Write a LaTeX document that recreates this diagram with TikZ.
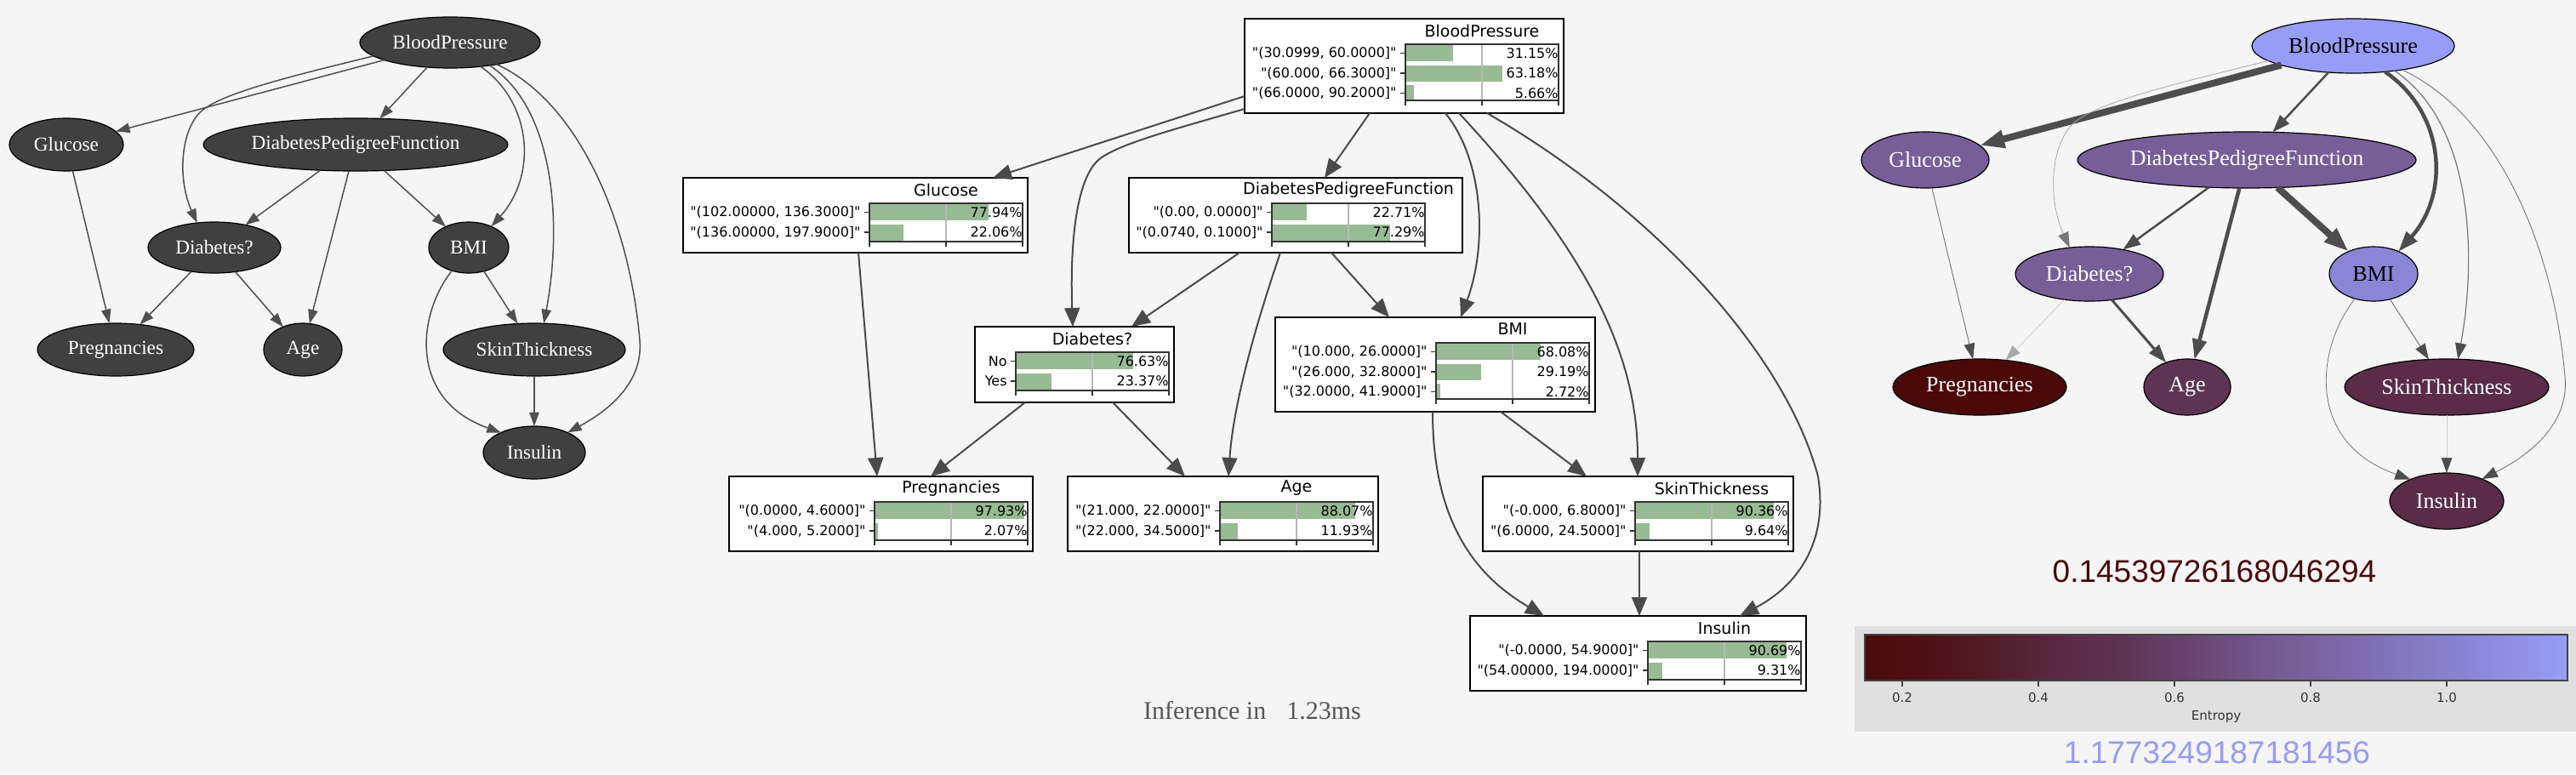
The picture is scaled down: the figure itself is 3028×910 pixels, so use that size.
\documentclass[tikz,border=0pt]{standalone}
\usepackage{fontspec}
\setmainfont{Liberation Serif}
\newfontfamily\dejavu{DejaVu Sans}
\newfontfamily\arialf{Liberation Sans}
\usetikzlibrary{shapes.geometric,arrows.meta,calc}
\definecolor{bg}{HTML}{F5F5F5}
\definecolor{lfill}{HTML}{404040}
\definecolor{ledgec}{HTML}{505050}
\definecolor{medgec}{HTML}{4A4A4A}
\definecolor{redgec}{HTML}{4D4D4D}
\definecolor{redgemid}{HTML}{777777}
\definecolor{redgelight}{HTML}{A8A8A8}
\definecolor{redgepale}{HTML}{C8C8C8}
\definecolor{barc}{HTML}{98BA94}
\definecolor{axc}{HTML}{333333}
\definecolor{gridc}{HTML}{B8B8B8}
\definecolor{cbbg}{HTML}{E0E0E0}
\definecolor{cbline}{HTML}{444444}
\definecolor{cbtxt}{HTML}{333333}
\definecolor{numdark}{HTML}{4A0A0A}
\definecolor{numlight}{HTML}{979CF5}
\definecolor{inftxt}{HTML}{555555}
\definecolor{rBPc}{HTML}{979DF7}
\definecolor{rPurp}{HTML}{775E98}
\definecolor{rBMIc}{HTML}{8A86D5}
\definecolor{rPreC}{HTML}{4A0808}
\definecolor{rAgeC}{HTML}{5E3454}
\definecolor{rSIC}{HTML}{5A2C48}
\definecolor{e0}{HTML}{4A0A0A}
\definecolor{e12}{HTML}{4F141A}
\definecolor{e30}{HTML}{5A2C48}
\definecolor{e37}{HTML}{5E3454}
\definecolor{e606}{HTML}{775E98}
\definecolor{e864}{HTML}{8A86D5}
\definecolor{e1}{HTML}{979DF7}
\pgfdeclarehorizontalshading{entropyshade}{100bp}{color(0bp)=(e0); color(25bp)=(e0); color(31bp)=(e12); color(40bp)=(e30); color(43.5bp)=(e37); color(55.3bp)=(e606); color(68.2bp)=(e864); color(75bp)=(e1); color(100bp)=(e1)}

\tikzset{
  lnode/.style={ellipse, draw=black, line width=0.6pt, fill=lfill, text=white, inner sep=0pt, outer sep=0pt, font=\fontsize{11.6}{13}\selectfont},
  ledge/.style={draw=ledgec, line width=0.75pt, -{Triangle[length=7.5pt 1, width=5pt 1]}},
  rnode/.style={ellipse, draw=black, line width=0.6pt, inner sep=0pt, outer sep=0pt, font=\fontsize{13}{15}\selectfont},
  rarr/.style n args={3}{line width=#1, draw=#2, -{Triangle[length=8.5pt 1.5, width=6pt 1, color=#3]}},
  medge/.style={draw=medgec, line width=1pt, -{Triangle[length=10pt 1, width=8pt 1]}},
  pbox/.style={draw=black, line width=1.3pt, fill=white, inner sep=0pt, outer sep=0pt},
  ptitle/.style={font=\dejavu\fontsize{9.5}{11}\selectfont, inner sep=0pt},
  plabel/.style={font=\dejavu\fontsize{8}{9}\selectfont, inner sep=0pt, anchor=east},
  axline/.style={draw=axc, line width=0.6pt},
  cbtick/.style={font=\dejavu\fontsize{7.5}{9}\selectfont, text=cbtxt, inner sep=0pt},
  bignum/.style={font=\arialf\fontsize{18.5}{21}\selectfont, inner sep=0pt},
  inf/.style={font=\fontsize{15}{17}\selectfont, text=inftxt, inner sep=0pt}
}

% #1 name, #2 L, #3 T, #4 R, #5 B, #6 bar-left, #7 title
\newcommand\pchart[7]{%
  \node[pbox, anchor=north west, minimum width={(#4-#2)*0.5pt}, minimum height={(#5-#3)*0.5pt}] (#1) at (#2,#3) {};
  \node[ptitle] (#1t) at ({#6+90},{#3+14}) {#7};
}
% #1 name, #2 bar-left, #3 row y, #4 label, #5 pct
\newcommand\prow[5]{%
  \fill[barc] (#2,{#3-9.5}) rectangle ({#2+1.8*#5},{#3+9.5});
  \draw[axline] ({#2-6},#3) -- (#2,#3);
  \node[plabel] (#1l) at ({#2-10},#3) {#4};
  \node[plabel] (#1p) at ({#2+180},#3) {#5\%};
}
% #1 bar-left, #2 chart top, #3 chart height
\newcommand\pframe[3]{%
  \draw[gridc, line width=0.6pt] ({#1+90},#2) -- ({#1+90},{#2+#3});
  \draw[axline] (#1,#2) rectangle ({#1+180},{#2+#3});
  \foreach \dx in {0,90,180} {\draw[axline] ({#1+\dx},{#2+#3}) -- ({#1+\dx},{#2+#3+6});}
}

\begin{document}
\begin{tikzpicture}[x=0.5pt,y=-0.5pt]
\useasboundingbox (0,0) rectangle (3028,910);
\fill[bg] (0,0) rectangle (3028,910);

%%%%%%%%%%%%%%%% LEFT GRAPH
\node[lnode,minimum width=106pt,minimum height=30pt] (lBP) at (529,50) {BloodPressure};
\node[lnode,minimum width=67pt,minimum height=31pt] (lGl) at (78,170) {Glucose};
\node[lnode,minimum width=179pt,minimum height=31pt] (lDPF) at (418,170) {DiabetesPedigreeFunction};
\node[lnode,minimum width=78pt,minimum height=30pt] (lDia) at (252,291) {Diabetes?};
\node[lnode,minimum width=47pt,minimum height=30pt] (lBMI) at (551,291) {BMI};
\node[lnode,minimum width=92pt,minimum height=31pt] (lPre) at (136,411) {Pregnancies};
\node[lnode,minimum width=46pt,minimum height=31pt] (lAge) at (356,411) {Age};
\node[lnode,minimum width=107pt,minimum height=31pt] (lST) at (628,411) {SkinThickness};
\node[lnode,minimum width=60pt,minimum height=31pt] (lIns) at (628,532) {Insulin};

\draw[ledge] (lBP) -- (lGl);
\draw[ledge] (lBP.190) .. controls (340,90) and (268,108) .. (240,128) .. controls (212,148) and (208,210) .. (lDia.125);
\draw[ledge] (lBP) -- (lDPF);
\draw[ledge] (lBP.322) .. controls (625,120) and (632,205) .. (lBMI.43);
\draw[ledge] (lBP.330) .. controls (655,130) and (660,270) .. (lST.70);
\draw[ledge] (lBP.335) .. controls (680,120) and (740,260) .. (752,400) .. controls (756,447) and (720,480) .. (lIns.31);
\draw[ledge] (lGl) -- (lPre);
\draw[ledge] (lDPF) -- (lDia);
\draw[ledge] (lDPF) -- (lAge);
\draw[ledge] (lDPF) -- (lBMI);
\draw[ledge] (lDia) -- (lPre);
\draw[ledge] (lDia) -- (lAge);
\draw[ledge] (lBMI) -- (lST);
\draw[ledge] (lBMI.234) .. controls (490,370) and (480,470) .. (lIns.149);
\draw[ledge] (lST) -- (lIns);

%%%%%%%%%%%%%%%% MIDDLE GRAPH
\pchart{mBP}{1463}{22}{1838}{133}{1652}{BloodPressure}
\prow{mBPa}{1652}{62.5}{"(30.0999, 60.0000]"}{31.15}
\prow{mBPb}{1652}{86}{"(60.000, 66.3000]"}{63.18}
\prow{mBPc}{1652}{109.5}{"(66.0000, 90.2000]"}{5.66}
\pframe{1652}{52}{66}

\pchart{mGl}{803}{209}{1208}{297}{1022}{Glucose}
\prow{mGla}{1022}{249.5}{"(102.00000, 136.3000]"}{77.94}
\prow{mGlb}{1022}{273}{"(136.00000, 197.9000]"}{22.06}
\pframe{1022}{239}{45}

\pchart{mDPF}{1327}{209}{1719}{297}{1495}{DiabetesPedigreeFunction}
\prow{mDPFa}{1495}{249.5}{"(0.00, 0.0000]"}{22.71}
\prow{mDPFb}{1495}{273}{"(0.0740, 0.1000]"}{77.29}
\pframe{1495}{239}{45}

\pchart{mDia}{1146}{384}{1380}{473}{1194}{Diabetes?}
\prow{mDiaa}{1194}{424.5}{No}{76.63}
\prow{mDiab}{1194}{448}{Yes}{23.37}
\pframe{1194}{414}{45}

\pchart{mBMI}{1499}{373}{1875}{484}{1688}{BMI}
\prow{mBMIa}{1688}{413.5}{"(10.000, 26.0000]"}{68.08}
\prow{mBMIb}{1688}{437}{"(26.000, 32.8000]"}{29.19}
\prow{mBMIc}{1688}{460.5}{"(32.0000, 41.9000]"}{2.72}
\pframe{1688}{403}{66}

\pchart{mPre}{857}{560}{1214}{648}{1028}{Pregnancies}
\prow{mPrea}{1028}{600.5}{"(0.0000, 4.6000]"}{97.93}
\prow{mPreb}{1028}{624}{"(4.000, 5.2000]"}{2.07}
\pframe{1028}{590}{45}

\pchart{mAge}{1255}{560}{1620}{648}{1434}{Age}
\prow{mAgea}{1434}{600.5}{"(21.000, 22.0000]"}{88.07}
\prow{mAgeb}{1434}{624}{"(22.000, 34.5000]"}{11.93}
\pframe{1434}{590}{45}

\pchart{mST}{1743}{560}{2108}{648}{1922}{SkinThickness}
\prow{mSTa}{1922}{600.5}{"(-0.000, 6.8000]"}{90.36}
\prow{mSTb}{1922}{624}{"(6.0000, 24.5000]"}{9.64}
\pframe{1922}{590}{45}

\pchart{mIns}{1728}{724}{2123}{812}{1937}{Insulin}
\prow{mInsa}{1937}{764.5}{"(-0.0000, 54.9000]"}{90.69}
\prow{mInsb}{1937}{788}{"(54.00000, 194.0000]"}{9.31}
\pframe{1937}{754}{45}

\draw[medge] ($(mBP.north west)+(0,91)$) -- ($(mGl.north west)+(364,0)$);
\draw[medge] ($(mBP.north west)+(0,106)$) .. controls (1380,152) and (1320,168) .. (1295,185) .. controls (1262,207) and (1258,300) .. ($(mDia.north west)+(115,0)$);
\draw[medge] ($(mBP.south west)+(147,0)$) -- ($(mDPF.north west)+(230,0)$);
\draw[medge] ($(mBP.south west)+(236,0)$) .. controls (1745,190) and (1748,290) .. ($(mBMI.north west)+(218,0)$);
\draw[medge] ($(mBP.south west)+(252,0)$) .. controls (1870,300) and (1925,420) .. ($(mST.north west)+(182,0)$);
\draw[medge] ($(mBP.south west)+(285,0)$) .. controls (1950,250) and (2100,420) .. (2137,560) .. controls (2150,640) and (2110,690) .. ($(mIns.north west)+(317,0)$);
\draw[medge] ($(mGl.south west)+(206,0)$) -- ($(mPre.north west)+(174,0)$);
\draw[medge] ($(mDPF.south west)+(130,0)$) -- ($(mDia.north west)+(184,0)$);
\draw[medge] ($(mDPF.south west)+(178,0)$) .. controls (1480,370) and (1450,470) .. ($(mAge.north west)+(189,0)$);
\draw[medge] ($(mDPF.south west)+(238,0)$) -- ($(mBMI.north west)+(134,0)$);
\draw[medge] ($(mDia.south west)+(59,0)$) -- ($(mPre.north west)+(237,0)$);
\draw[medge] ($(mDia.south west)+(162,0)$) -- ($(mAge.north west)+(138,0)$);
\draw[medge] ($(mBMI.south west)+(265,0)$) -- ($(mST.north west)+(122,0)$);
\draw[medge] ($(mBMI.south west)+(185,0)$) .. controls (1684,620) and (1740,680) .. ($(mIns.north west)+(87,0)$);
\draw[medge] ($(mST.south west)+(184,0)$) -- ($(mIns.north west)+(199,0)$);

\node[inf] (infer) at (1472,835) {Inference in\hspace{0.8em}1.23ms};

%%%%%%%%%%%%%%%% RIGHT GRAPH
\node[rnode,fill=rBPc,text=black,minimum width=119pt,minimum height=32pt] (rBP) at (2766,54) {BloodPressure};
\node[rnode,fill=rPurp,text=white,minimum width=75pt,minimum height=33pt] (rGl) at (2263,188) {Glucose};
\node[rnode,fill=rPurp,text=white,minimum width=199pt,minimum height=33pt] (rDPF) at (2641,188) {DiabetesPedigreeFunction};
\node[rnode,fill=rPurp,text=white,minimum width=87pt,minimum height=32pt] (rDia) at (2456,322) {Diabetes?};
\node[rnode,fill=rBMIc,text=black,minimum width=52pt,minimum height=32pt] (rBMI) at (2790,322) {BMI};
\node[rnode,fill=rPreC,text=white,minimum width=102pt,minimum height=33pt] (rPre) at (2327,455) {Pregnancies};
\node[rnode,fill=rAgeC,text=white,minimum width=51pt,minimum height=33pt] (rAge) at (2571,455) {Age};
\node[rnode,fill=rSIC,text=white,minimum width=120pt,minimum height=33pt] (rST) at (2876,455) {SkinThickness};
\node[rnode,fill=rSIC,text=white,minimum width=67pt,minimum height=33pt] (rIns) at (2876,589) {Insulin};

\draw[rarr={4pt}{redgec}{redgec}] (rBP) -- (rGl);
\draw[rarr={0.4pt}{redgelight}{redgemid}] (rBP.190) .. controls (2554,99) and (2473,119) .. (2442,141) .. controls (2410,164) and (2406,232) .. (rDia.127);
\draw[rarr={1.25pt}{redgec}{redgec}] (rBP) -- (rDPF);
\draw[rarr={2.25pt}{redgec}{redgec}] (rBP.321) .. controls (2873,132) and (2881,226) .. (rBMI.42);
\draw[rarr={0.6pt}{redgemid}{redgec}] (rBP.329) .. controls (2906,144) and (2912,299) .. (rST.68);
\draw[rarr={0.45pt}{redgemid}{redgec}] (rBP.334) .. controls (2934,133) and (3002,288) .. (3015,443) .. controls (3020,495) and (2979,532) .. (rIns.32);
\draw[rarr={0.45pt}{redgemid}{redgec}] (rGl) -- (rPre);
\draw[rarr={1.25pt}{redgec}{redgec}] (rDPF) -- (rDia);
\draw[rarr={2.25pt}{redgec}{redgec}] (rDPF) -- (rAge);
\draw[rarr={4pt}{redgec}{redgec}] (rDPF) -- (rBMI);
\draw[rarr={0.3pt}{redgepale}{redgelight}] (rDia) -- (rPre);
\draw[rarr={1.5pt}{redgec}{redgec}] (rDia) -- (rAge);
\draw[rarr={0.5pt}{redgemid}{redgec}] (rBMI) -- (rST);
\draw[rarr={0.4pt}{redgemid}{redgec}] (rBMI.233) .. controls (2722,410) and (2710,520) .. (rIns.149);
\draw[rarr={0.3pt}{redgepale}{redgec}] (rST) -- (rIns);

\node[bignum, text=numdark] (hmin) at (2603,672) {0.14539726168046294};

\fill[cbbg] (2180,736) rectangle (3028,860);
\shade[shading=entropyshade] (2192,746) rectangle (3018,800);
\draw[draw=cbline, line width=0.6pt] (2192,746) rectangle (3018,800);
\foreach \v/\xx in {0.2/2236,0.4/2396,0.6/2556,0.8/2716,1.0/2876} {
  \draw[draw=cbline, line width=0.6pt] (\xx,800) -- (\xx,807);
  \node[cbtick] (tick\xx) at (\xx,820) {\v};
}
\node[cbtick] (entropy) at (2605,843) {Entropy};

\node[bignum, text=numlight] (hmax) at (2606,885) {1.1773249187181456};
\end{tikzpicture}
\end{document}
